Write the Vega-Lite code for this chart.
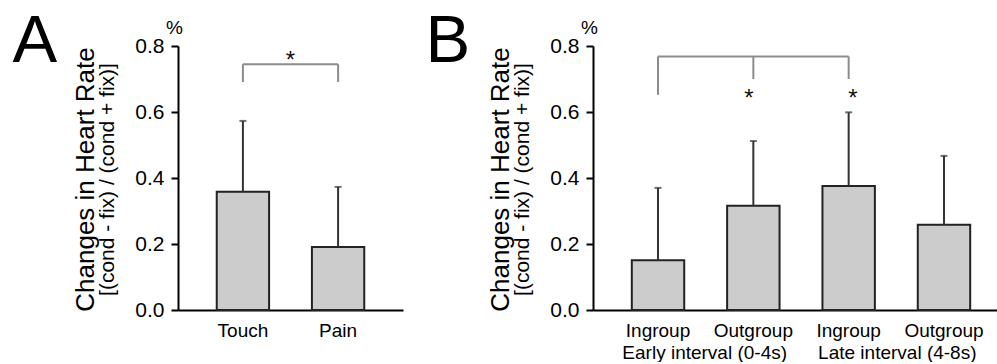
{
  "$schema": "https://vega.github.io/schema/vega-lite/v6.json",
  "background": "white",
  "padding": {"left": 12, "top": 7, "right": 0, "bottom": 0},
  "spacing": 22,
  "config": {
    "view": {"stroke": null},
    "font": "Liberation Sans",
    "axis": {"grid": false, "labelFont": "Liberation Sans", "titleFont": "Liberation Sans", "labelColor": "#000", "titleColor": "#000", "titleFontWeight": "normal"},
    "text": {"font": "Liberation Sans"}
  },
  "hconcat": [
    {
      "width": 225,
      "height": 264,
      "resolve": {"scale": {"y": "independent", "x": "independent"}, "axis": {"y": "independent", "x": "independent"}},
      "layer": [
        {
          "data": {"values": [
            {"cond": "Touch", "mean": 0.358, "upper": 0.573},
            {"cond": "Pain", "mean": 0.191, "upper": 0.373}
          ]},
          "mark": {"type": "bar", "fill": "#cccccc", "stroke": "#222222", "strokeWidth": 2},
          "encoding": {
            "x": {"field": "cond", "type": "nominal",
              "scale": {"domain": ["Touch", "Pain"], "paddingInner": 0.45, "paddingOuter": 0.407},
              "axis": {"orient": "bottom", "labelAngle": 0, "labelFontSize": 19, "labelPadding": 11, "ticks": false, "tickSize": 0,
                "domainColor": "#000", "domainWidth": 2,
                "title": "A", "titleX": -166, "titleY": -249, "titleAngle": 0, "titleAlign": "left", "titleBaseline": "alphabetic", "titleFontSize": 67}},
            "y": {"field": "mean", "type": "quantitative",
              "scale": {"domain": [0, 0.8]},
              "axis": {"orient": "left", "values": [0, 0.2, 0.4, 0.6, 0.8], "format": ".1f", "labelFontSize": 21, "labelPadding": 7,
                "tickSize": 7, "tickWidth": 2, "tickColor": "#000", "domainColor": "#000", "domainWidth": 2,
                "title": "%", "titleAngle": 0, "titleX": -4, "titleY": -13, "titleAlign": "center", "titleBaseline": "alphabetic", "titleFontSize": 19}}
          }
        },
        {
          "data": {"values": [
            {"cond": "Touch", "mean": 0.358, "upper": 0.573},
            {"cond": "Pain", "mean": 0.191, "upper": 0.373}
          ]},
          "mark": {"type": "rule", "color": "#333333", "strokeWidth": 2},
          "encoding": {
            "x": {"field": "cond", "type": "nominal", "scale": {"domain": ["Touch", "Pain"], "paddingInner": 0.45, "paddingOuter": 0.407}, "axis": null},
            "y": {"field": "mean", "type": "quantitative", "scale": {"domain": [0, 0.8]},
              "axis": {"orient": "left", "labels": false, "ticks": false, "domain": false, "grid": false,
                "title": "[(cond - fix) / (cond + fix)]", "titleX": -65, "titleY": 133, "titleAngle": 270, "titleAlign": "center", "titleBaseline": "alphabetic", "titleFontSize": 21}},
            "y2": {"field": "upper"}
          }
        },
        {
          "data": {"values": [
            {"cond": "Touch", "upper": 0.573},
            {"cond": "Pain", "upper": 0.373}
          ]},
          "mark": {"type": "tick", "color": "#333333", "size": 7, "thickness": 2},
          "encoding": {
            "x": {"field": "cond", "type": "nominal", "scale": {"domain": ["Touch", "Pain"], "paddingInner": 0.45, "paddingOuter": 0.407}, "axis": null},
            "y": {"field": "upper", "type": "quantitative", "scale": {"domain": [0, 0.8]}, "axis": null}
          }
        },
        {
          "data": {"values": [
            {"from": "Touch", "to": "Pain", "y1": 0.745, "y2": 0.745},
            {"from": "Touch", "to": "Touch", "y1": 0.691, "y2": 0.745},
            {"from": "Pain", "to": "Pain", "y1": 0.691, "y2": 0.745}
          ]},
          "mark": {"type": "rule", "color": "#8c8c8c", "strokeWidth": 2},
          "encoding": {
            "x": {"field": "from", "type": "nominal", "scale": {"domain": ["Touch", "Pain"], "paddingInner": 0.45, "paddingOuter": 0.407}, "axis": null},
            "x2": {"field": "to"},
            "y": {"field": "y1", "type": "quantitative", "scale": {"domain": [0, 0.8]},
              "axis": {"orient": "left", "labels": false, "ticks": false, "domain": false, "grid": false,
                "title": "Changes in Heart Rate", "titleX": -85, "titleY": 133, "titleAngle": 270, "titleAlign": "center", "titleBaseline": "alphabetic", "titleFontSize": 26}},
            "y2": {"field": "y2"}
          }
        },
        {
          "data": {"values": [
            {"pos": 0.5, "y": 0.733, "label": "*"}
          ]},
          "mark": {"type": "text", "fontSize": 24, "color": "#111111", "baseline": "alphabetic", "align": "center"},
          "encoding": {
            "x": {"field": "pos", "type": "quantitative", "scale": {"domain": [0, 1]}, "axis": null},
            "y": {"field": "y", "type": "quantitative", "scale": {"domain": [0, 0.8]}, "axis": null},
            "text": {"field": "label"}
          }
        }
      ]
    },
    {
      "width": 416,
      "height": 264,
      "resolve": {"scale": {"y": "independent", "x": "independent"}, "axis": {"y": "independent", "x": "independent"}},
      "layer": [
        {
          "data": {"values": [
            {"cond": "Ingroup Early", "mean": 0.151, "upper": 0.370},
            {"cond": "Outgroup Early", "mean": 0.316, "upper": 0.512},
            {"cond": "Ingroup Late", "mean": 0.376, "upper": 0.599},
            {"cond": "Outgroup Late", "mean": 0.258, "upper": 0.467}
          ]},
          "mark": {"type": "bar", "fill": "#cccccc", "stroke": "#222222", "strokeWidth": 2},
          "encoding": {
            "x": {"field": "cond", "type": "nominal",
              "scale": {"domain": ["Ingroup Early", "Outgroup Early", "Ingroup Late", "Outgroup Late"], "paddingInner": 0.45, "paddingOuter": 0.407},
              "axis": {"orient": "bottom", "labelExpr": "split(datum.label, ' ')[0]", "labelAngle": 0, "labelFontSize": 19, "labelPadding": 11, "ticks": false, "tickSize": 0,
                "domainColor": "#000", "domainWidth": 2,
                "title": "B", "titleX": -168, "titleY": -249, "titleAngle": 0, "titleAlign": "left", "titleBaseline": "alphabetic", "titleFontSize": 67}},
            "y": {"field": "mean", "type": "quantitative",
              "scale": {"domain": [0, 0.8]},
              "axis": {"orient": "left", "values": [0, 0.2, 0.4, 0.6, 0.8], "format": ".1f", "labelFontSize": 21, "labelPadding": 7,
                "tickSize": 7, "tickWidth": 2, "tickColor": "#000", "domainColor": "#000", "domainWidth": 2,
                "title": "%", "titleAngle": 0, "titleX": -4, "titleY": -13, "titleAlign": "center", "titleBaseline": "alphabetic", "titleFontSize": 19}}
          }
        },
        {
          "data": {"values": [
            {"cond": "Ingroup Early", "mean": 0.151, "upper": 0.370},
            {"cond": "Outgroup Early", "mean": 0.316, "upper": 0.512},
            {"cond": "Ingroup Late", "mean": 0.376, "upper": 0.599},
            {"cond": "Outgroup Late", "mean": 0.258, "upper": 0.467}
          ]},
          "mark": {"type": "rule", "color": "#333333", "strokeWidth": 2},
          "encoding": {
            "x": {"field": "cond", "type": "nominal", "scale": {"domain": ["Ingroup Early", "Outgroup Early", "Ingroup Late", "Outgroup Late"], "paddingInner": 0.45, "paddingOuter": 0.407}, "axis": null},
            "y": {"field": "mean", "type": "quantitative", "scale": {"domain": [0, 0.8]},
              "axis": {"orient": "left", "labels": false, "ticks": false, "domain": false, "grid": false,
                "title": "[(cond - fix) / (cond + fix)]", "titleX": -65, "titleY": 133, "titleAngle": 270, "titleAlign": "center", "titleBaseline": "alphabetic", "titleFontSize": 21}},
            "y2": {"field": "upper"}
          }
        },
        {
          "data": {"values": [
            {"cond": "Ingroup Early", "upper": 0.370},
            {"cond": "Outgroup Early", "upper": 0.512},
            {"cond": "Ingroup Late", "upper": 0.599},
            {"cond": "Outgroup Late", "upper": 0.467}
          ]},
          "mark": {"type": "tick", "color": "#333333", "size": 7, "thickness": 2},
          "encoding": {
            "x": {"field": "cond", "type": "nominal", "scale": {"domain": ["Ingroup Early", "Outgroup Early", "Ingroup Late", "Outgroup Late"], "paddingInner": 0.45, "paddingOuter": 0.407}, "axis": null},
            "y": {"field": "upper", "type": "quantitative", "scale": {"domain": [0, 0.8]}, "axis": null}
          }
        },
        {
          "data": {"values": [
            {"from": "Ingroup Early", "to": "Ingroup Late", "y1": 0.768, "y2": 0.768},
            {"from": "Ingroup Early", "to": "Ingroup Early", "y1": 0.652, "y2": 0.768},
            {"from": "Outgroup Early", "to": "Outgroup Early", "y1": 0.70, "y2": 0.768},
            {"from": "Ingroup Late", "to": "Ingroup Late", "y1": 0.70, "y2": 0.768}
          ]},
          "mark": {"type": "rule", "color": "#8c8c8c", "strokeWidth": 2},
          "encoding": {
            "x": {"field": "from", "type": "nominal", "scale": {"domain": ["Ingroup Early", "Outgroup Early", "Ingroup Late", "Outgroup Late"], "paddingInner": 0.45, "paddingOuter": 0.407}, "axis": null},
            "x2": {"field": "to"},
            "y": {"field": "y1", "type": "quantitative", "scale": {"domain": [0, 0.8]},
              "axis": {"orient": "left", "labels": false, "ticks": false, "domain": false, "grid": false,
                "title": "Changes in Heart Rate", "titleX": -85, "titleY": 133, "titleAngle": 270, "titleAlign": "center", "titleBaseline": "alphabetic", "titleFontSize": 26}},
            "y2": {"field": "y2"}
          }
        },
        {
          "data": {"values": [
            {"cond": "Outgroup Early", "y": 0.619, "label": "*"},
            {"cond": "Ingroup Late", "y": 0.619, "label": "*"}
          ]},
          "mark": {"type": "text", "fontSize": 24, "color": "#111111", "baseline": "alphabetic", "align": "center"},
          "encoding": {
            "x": {"field": "cond", "type": "nominal", "scale": {"domain": ["Ingroup Early", "Outgroup Early", "Ingroup Late", "Outgroup Late"], "paddingInner": 0.45, "paddingOuter": 0.407}, "axis": null},
            "y": {"field": "y", "type": "quantitative", "scale": {"domain": [0, 0.8]}, "axis": null},
            "text": {"field": "label"}
          }
        },
        {
          "data": {"values": [
            {"interval": "Early interval (0-4s)"},
            {"interval": "Late interval (4-8s)"}
          ]},
          "mark": {"type": "point", "opacity": 0},
          "encoding": {
            "x": {"field": "interval", "type": "nominal",
              "scale": {"type": "band", "domain": ["Early interval (0-4s)", "Late interval (4-8s)"], "paddingInner": 0, "paddingOuter": 0.08},
              "axis": {"orient": "bottom", "title": null, "labelAngle": 0, "labelFontSize": 19, "labelPadding": 33, "ticks": false, "tickSize": 0, "domain": false}}
          }
        }
      ]
    }
  ]
}
